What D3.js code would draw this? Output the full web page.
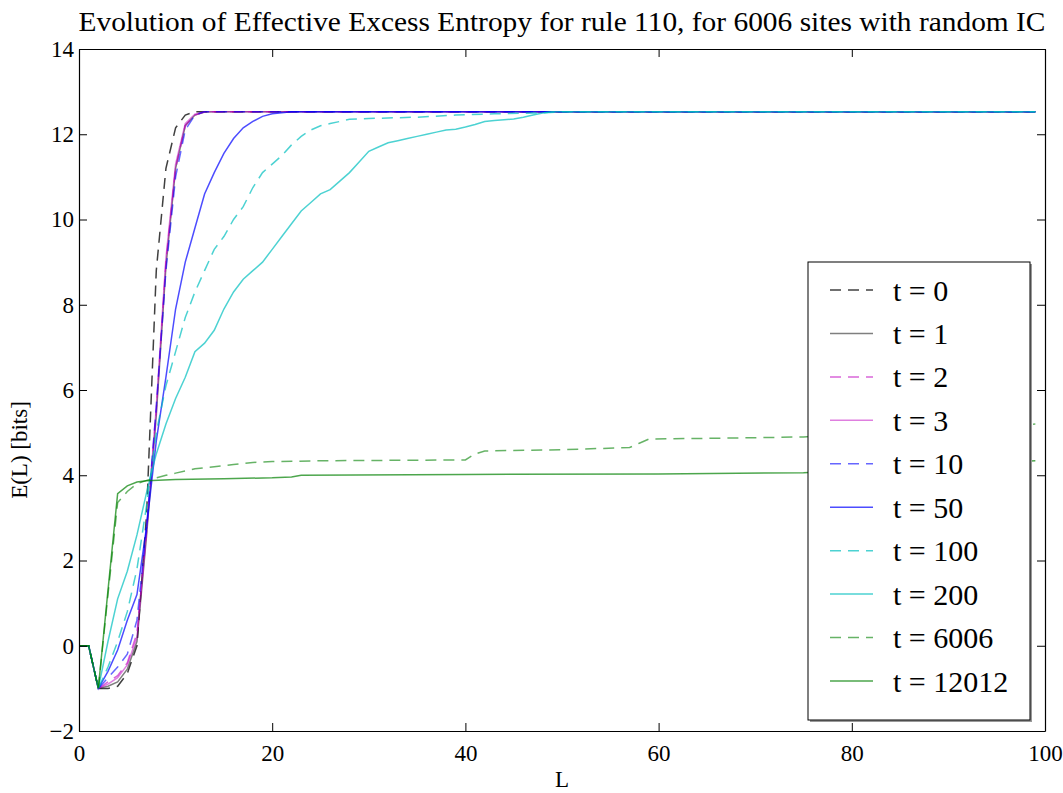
<!DOCTYPE html>
<html>
<head>
<meta charset="utf-8">
<script src="https://cdn.jsdelivr.net/npm/d3@7"></script>
<style>
  body { margin: 0; background: #fff; }
  text { font-family: "Liberation Serif", "DejaVu Serif", serif; fill: #000; }
</style>
</head>
<body>
<div id="chart"></div>
<script>
// values, [L, E(L)] pairs
const t0 = [[0,0],[1,0],[2,-1],[3,-1.0],[4,-0.95],[5,-0.65],[6,0.0],[7,3.1],[8,8.8],[9,11.2],[10,12.15],[11,12.45],[12,12.53],[99,12.53]];
const t1 = [[0,0],[1,0],[2,-1],[3,-0.95],[4,-0.85],[5,-0.55],[6,0.1],[7,2.6],[8,5.4],[9,8.9],[10,11.2],[11,12.2],[12,12.45],[13,12.52],[14,12.53],[99,12.53]];
const t2 = [[0,0],[1,0],[2,-1],[3,-0.85],[4,-0.7],[5,-0.4],[6,0.3],[7,2.7],[8,5.5],[9,9.0],[10,11.2],[11,12.2],[12,12.45],[13,12.52],[14,12.53],[99,12.53]];
const t3 = [[0,0],[1,0],[2,-1],[3,-0.9],[4,-0.75],[5,-0.45],[6,0.2],[7,2.7],[8,5.6],[9,9.1],[10,11.3],[11,12.25],[12,12.47],[13,12.53],[99,12.53]];
const t10 = [[0,0],[1,0],[2,-1],[3,-0.75],[4,-0.5],[5,-0.2],[6,0.6],[7,2.8],[8,5.6],[9,8.8],[10,11.0],[11,12.1],[12,12.45],[13,12.53],[99,12.53]];
const t50 = [[0,0],[1,0],[2,-1],[3,-0.6],[4,-0.1],[5,0.6],[6,1.2],[7,2.8],[8,4.8],[9,6.3],[10,7.9],[11,9.0],[12,9.8],[13,10.6],[14,11.1],[15,11.55],[16,11.9],[17,12.15],[18,12.3],[19,12.42],[20,12.48],[22,12.53],[99,12.53]];
const t100 = [[0,0],[1,0],[2,-1],[3,-0.5],[4,0.1],[5,0.8],[6,1.8],[7,3.3],[8,5.0],[9,6.1],[10,6.9],[11,7.7],[12,8.3],[13,8.8],[14,9.3],[15,9.6],[16,10.0],[17,10.3],[18,10.75],[19,11.1],[20,11.3],[21,11.5],[22,11.75],[23,11.95],[24,12.1],[25,12.2],[26,12.25],[27,12.3],[28,12.35],[30,12.37],[35,12.4],[39,12.45],[43,12.48],[48,12.5],[50,12.53],[99,12.53]];
const t200 = [[0,0],[1,0],[2,-1],[3,0.1],[4,1.1],[5,1.75],[6,2.6],[7,3.6],[8,4.5],[9,5.2],[10,5.8],[11,6.3],[12,6.9],[13,7.1],[14,7.4],[15,7.9],[16,8.3],[17,8.6],[18,8.8],[19,9.0],[20,9.3],[21,9.6],[22,9.9],[23,10.2],[24,10.4],[25,10.6],[26,10.7],[27,10.9],[28,11.1],[29,11.35],[30,11.6],[31,11.7],[32,11.8],[33,11.85],[34,11.9],[35,11.95],[36,12.0],[37,12.05],[38,12.1],[39,12.12],[40,12.17],[41,12.23],[42,12.3],[43,12.32],[44,12.34],[45,12.36],[46,12.4],[47,12.45],[48,12.5],[49,12.53],[99,12.53]];
const t6006 = [[0,0],[1,0],[2,-1],[3,1.2],[4,3.36],[5,3.62],[6,3.8],[7,3.88],[8,3.94],[9,4.0],[10,4.05],[11,4.1],[12,4.15],[14,4.2],[16,4.25],[18,4.3],[20,4.32],[25,4.34],[40,4.36],[41,4.5],[42,4.57],[50,4.6],[57,4.65],[58,4.75],[59,4.85],[70,4.88],[75,4.9],[99,5.2]];
const t12012 = [[0,0],[1,0],[2,-1],[3,1.3],[4,3.57],[5,3.75],[6,3.84],[7,3.87],[10,3.9],[15,3.92],[20,3.94],[22,3.96],[23,4.0],[40,4.02],[60,4.03],[75,4.06],[99,4.34]];

const legendLabels = ["t = 0","t = 1","t = 2","t = 3","t = 10","t = 50","t = 100","t = 200","t = 6006","t = 12012"];
const xTicks = [0,20,40,60,80,100];
const yTicks = [-2,0,2,4,6,8,10,12,14];

const series = [
  {data: t0,     color: "#000000", op: 0.75, dash: true},
  {data: t1,     color: "#000000", op: 0.5,  dash: false},
  {data: t2,     color: "#bf00bf", op: 0.6,  dash: true},
  {data: t3,     color: "#bf00bf", op: 0.5,  dash: false},
  {data: t10,    color: "#0000ff", op: 0.6,  dash: true},
  {data: t50,    color: "#0000ff", op: 0.7,  dash: false},
  {data: t100,   color: "#00bfbf", op: 0.7,  dash: true},
  {data: t200,   color: "#00bfbf", op: 0.7,  dash: false},
  {data: t6006,  color: "#008000", op: 0.6,  dash: true},
  {data: t12012, color: "#008000", op: 0.7,  dash: false}
];

const W = 1063, H = 793;
const mLeft = 79, mRight = 1045, mTop = 49, mBottom = 731;

const svg = d3.select("#chart").append("svg")
    .attr("width", W).attr("height", H);

const x = d3.scaleLinear().domain([0, 100]).range([mLeft, mRight]);
const y = d3.scaleLinear().domain([-2, 14]).range([mBottom, mTop]);

const line = d3.line()
    .x(function (d) { return x(d[0]); })
    .y(function (d) { return y(d[1]); });

svg.append("clipPath").attr("id", "plotclip")
  .append("rect")
    .attr("x", mLeft).attr("y", mTop)
    .attr("width", mRight - mLeft).attr("height", mBottom - mTop);

const plot = svg.append("g").attr("clip-path", "url(#plotclip)");

series.forEach(function (s) {
  plot.append("path")
      .attr("d", line(s.data))
      .attr("fill", "none")
      .attr("stroke", s.color)
      .attr("stroke-opacity", s.op)
      .attr("stroke-width", 1.5)
      .attr("stroke-dasharray", s.dash ? "11,7" : null);
});

// axes, ticks pointing inward like matplotlib classic
const axB = svg.append("g").attr("transform", "translate(0," + mBottom + ")")
    .call(d3.axisBottom(x).tickValues(xTicks).tickSizeInner(-8).tickSizeOuter(0).tickPadding(14).tickFormat(d3.format("d")));
const axT = svg.append("g").attr("transform", "translate(0," + mTop + ")")
    .call(d3.axisTop(x).tickValues(xTicks).tickSizeInner(-8).tickSizeOuter(0).tickFormat(""));
const axL = svg.append("g").attr("transform", "translate(" + mLeft + ",0)")
    .call(d3.axisLeft(y).tickValues(yTicks).tickSizeInner(-8).tickSizeOuter(0).tickPadding(5)
      .tickFormat(function (d) { return d < 0 ? "\u2212" + Math.abs(d) : d; }));
const axR = svg.append("g").attr("transform", "translate(" + mRight + ",0)")
    .call(d3.axisRight(y).tickValues(yTicks).tickSizeInner(-8).tickSizeOuter(0).tickFormat(""));

[axB, axT, axL, axR].forEach(function (g) {
  g.select(".domain").attr("stroke", "#000").attr("stroke-width", 1.2);
  g.selectAll(".tick line").attr("stroke", "#000").attr("stroke-width", 1);
  g.selectAll(".tick text").style("font-size", "23px").attr("font-family", null);
});
axB.selectAll(".tick text").attr("dy", "0.71em");

// title and axis labels
svg.append("text")
    .attr("x", (mLeft + mRight) / 2).attr("y", 31)
    .attr("text-anchor", "middle")
    .attr("textLength", 967)
    .attr("lengthAdjust", "spacingAndGlyphs")
    .style("font-size", "28px")
    .text("Evolution of Effective Excess Entropy for rule 110, for 6006 sites with random IC");

svg.append("text")
    .attr("x", (mLeft + mRight) / 2).attr("y", 787)
    .attr("text-anchor", "middle")
    .style("font-size", "23px")
    .text("L");

svg.append("text")
    .attr("transform", "translate(27,450) rotate(-90)")
    .attr("text-anchor", "middle")
    .style("font-size", "23px")
    .text("E(L) [bits]");

// legend
const lg = svg.append("g");
lg.append("rect")
    .attr("x", 810).attr("y", 264).attr("width", 222).attr("height", 458)
    .attr("fill", "#999");
lg.append("rect")
    .attr("x", 808).attr("y", 262).attr("width", 222).attr("height", 458)
    .attr("fill", "#fff").attr("stroke", "#000").attr("stroke-width", 1);

const legendY = d3.scaleLinear().domain([0, 9]).range([290, 681]);
series.forEach(function (s, i) {
  const yy = legendY(i);
  lg.append("line")
      .attr("x1", 830).attr("x2", 873).attr("y1", yy).attr("y2", yy)
      .attr("stroke", s.color).attr("stroke-opacity", s.op)
      .attr("stroke-width", 1.5)
      .attr("stroke-dasharray", s.dash ? "11,7" : null);
  lg.append("text")
      .attr("x", 893).attr("y", yy).attr("dy", "0.35em")
      .style("font-size", "30px")
      .text(legendLabels[i]);
});
</script>
</body>
</html>
